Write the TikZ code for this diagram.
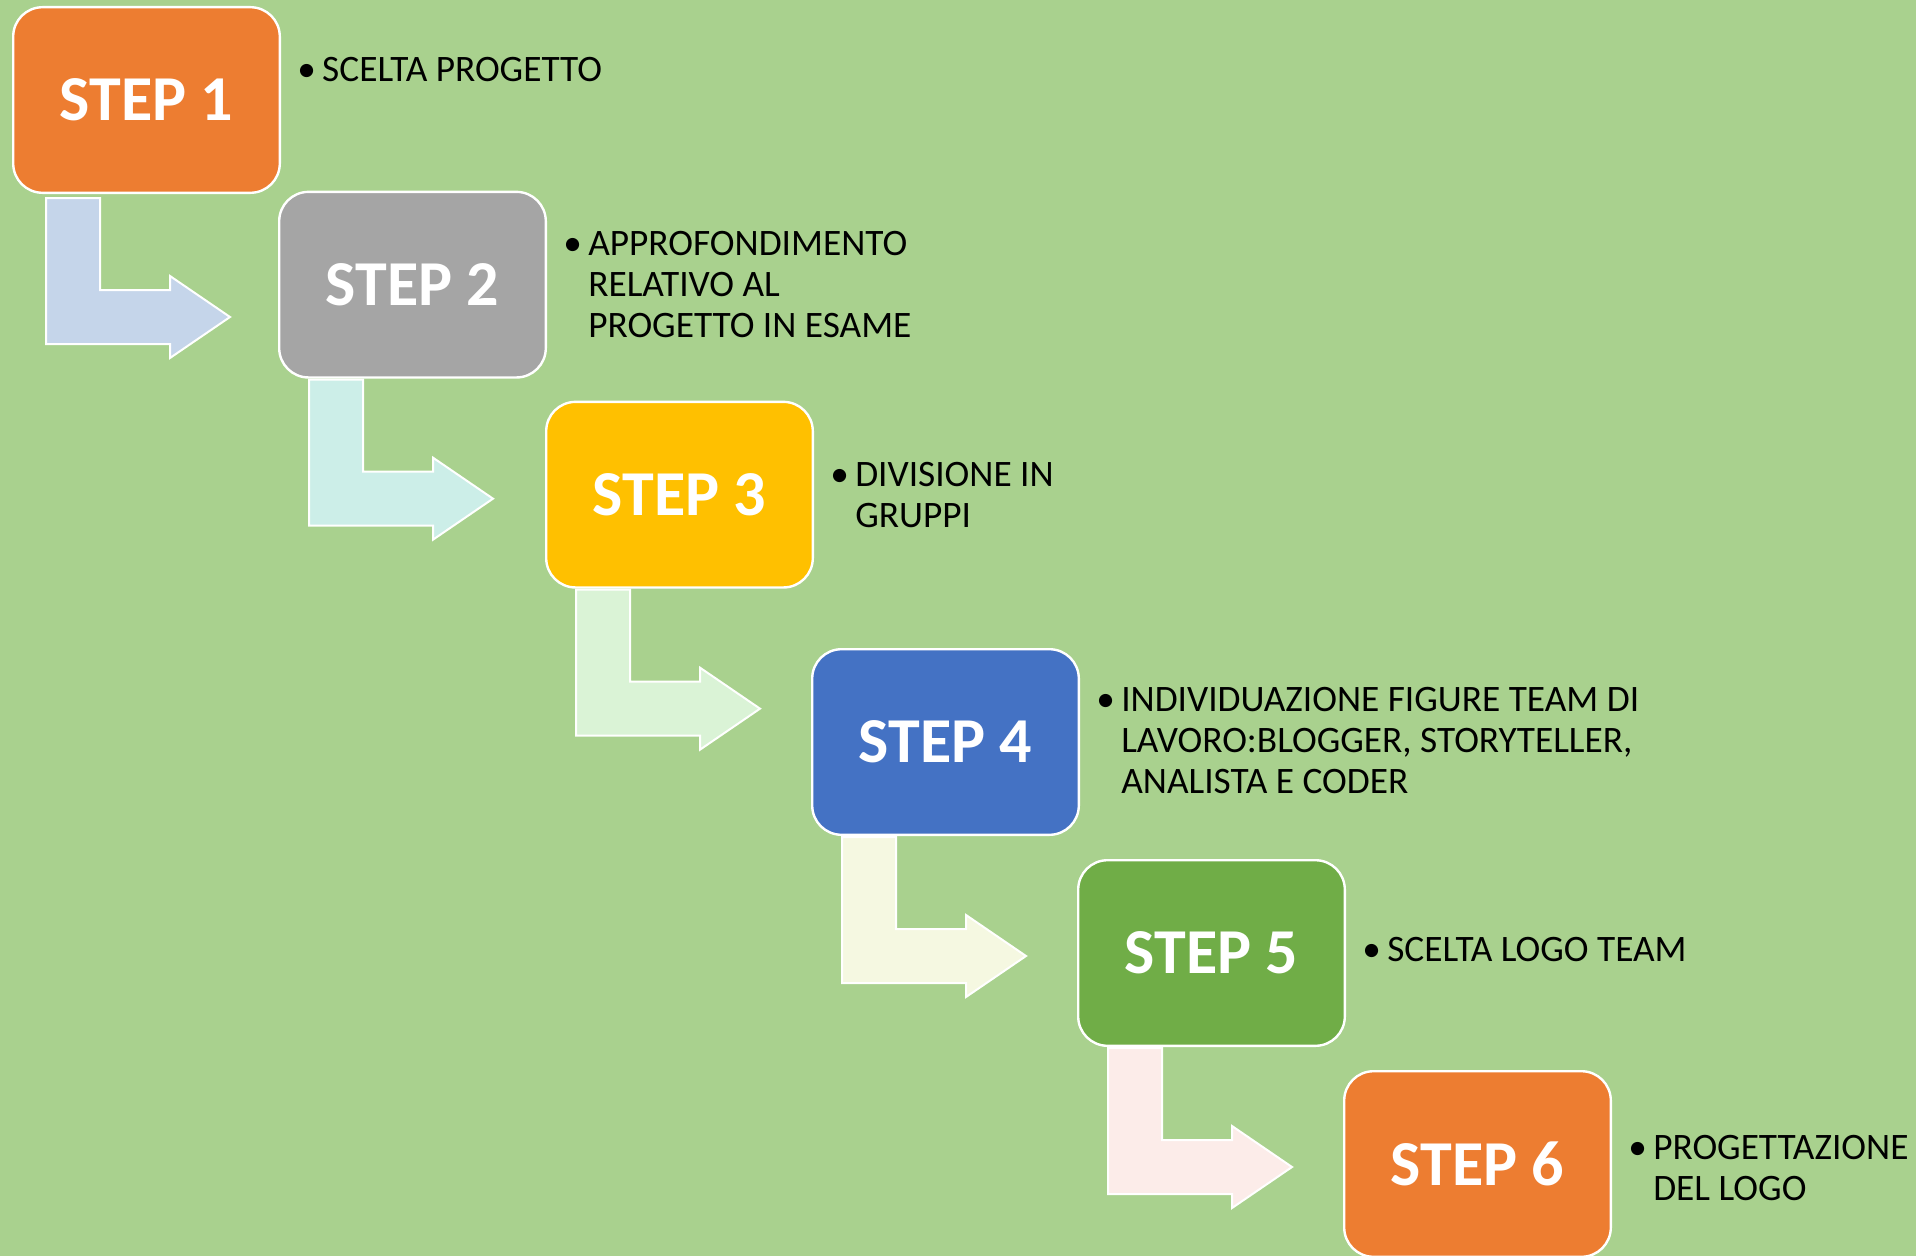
\documentclass[tikz,border=0pt]{standalone}
\usepackage{fontspec}
\setmainfont{Carlito}
\usetikzlibrary{positioning}

\definecolor{bggreen}{HTML}{A9D18E}
\definecolor{orangebox}{HTML}{ED7D31}
\definecolor{graybox}{HTML}{A5A5A5}
\definecolor{goldbox}{HTML}{FFC000}
\definecolor{bluebox}{HTML}{4472C4}
\definecolor{greenbox}{HTML}{70AD47}
\definecolor{arrblue}{HTML}{C5D5EA}
\definecolor{arrcyan}{HTML}{CCEEE8}
\definecolor{arrgreen}{HTML}{DAF3D6}
\definecolor{arryellow}{HTML}{F5F8E1}
\definecolor{arrpink}{HTML}{FCECE9}

\begin{document}
\begin{tikzpicture}[
  x=0.75pt, y=-0.75pt,
  stepbox/.style={draw=white, line width=1.8pt, rounded corners=22pt,
    minimum width=199.95pt, minimum height=139.2pt, text=white,
    font=\fontsize{48}{50}\selectfont\bfseries},
  desc/.style={inner sep=0pt, align=left, font=\fontsize{28}{30.75}\selectfont},
  barrow/.style={draw=white, line width=1.5pt, line join=miter},
]

% --- background ---
\path[fill=bggreen, use as bounding box] (0,0) rectangle (1916,1256);

% --- step boxes ---
\node[stepbox, fill=orangebox] (s1) at (146.5,100) {STEP 1};
\node[stepbox, fill=graybox, below right=-2.5pt and -2.25pt of s1] (s2) {STEP 2};
\node[stepbox, fill=goldbox, below right=16.5pt and -1.5pt of s2] (s3) {STEP 3};
\node[stepbox, fill=bluebox, below right=44.5pt and -2.25pt of s3] (s4) {STEP 4};
\node[stepbox, fill=greenbox, below right=17.25pt and -2.25pt of s4] (s5) {STEP 5};
\node[stepbox, fill=orangebox, below right=17.25pt and -2.25pt of s5] (s6) {STEP 6};

% --- bullet texts ---
\node[desc, right=12pt of s1.east, yshift=20pt] (t1)
  {\begin{tabular}{@{}l@{}l@{}}\makebox[18.75pt][l]{\textbullet} & SCELTA PROGETTO\end{tabular}};
\node[desc, right=12pt of s2.east, yshift=-2.5pt] (t2)
  {\begin{tabular}{@{}l@{}l@{}}\makebox[18.75pt][l]{\textbullet} & APPROFONDIMENTO\\
   & RELATIVO AL\\ & PROGETTO IN ESAME\end{tabular}};
\node[desc, right=12pt of s3.east, yshift=-3.3pt] (t3)
  {\begin{tabular}{@{}l@{}l@{}}\makebox[18.75pt][l]{\textbullet} & DIVISIONE IN\\
   & GRUPPI\end{tabular}};
\node[desc, right=12pt of s4.east, yshift=-1.8pt] (t4)
  {\begin{tabular}{@{}l@{}l@{}}\makebox[18.75pt][l]{\textbullet} & INDIVIDUAZIONE FIGURE TEAM DI\\
   & LAVORO:BLOGGER, STORYTELLER,\\ & ANALISTA E CODER\end{tabular}};
\node[desc, right=12pt of s5.east] (t5)
  {\begin{tabular}{@{}l@{}l@{}}\makebox[18.75pt][l]{\textbullet} & SCELTA LOGO TEAM\end{tabular}};
\node[desc, right=12pt of s6.east, yshift=-6pt] (t6)
  {\begin{tabular}{@{}l@{}l@{}}\makebox[18.75pt][l]{\textbullet} & PROGETTAZIONE\\
   & DEL LOGO\end{tabular}};

% --- bent arrows between steps ---
\filldraw[barrow, fill=arrblue, shift={(s1.south west)}] (34,4) -- ++(54,0) -- ++(0,92)
  -- ++(70,0) -- ++(0,-14) -- ++(60,41) -- ++(-60,41) -- ++(0,-14) -- ++(-124,0) -- cycle;
\filldraw[barrow, fill=arrcyan, shift={(s2.south west)}] (31,1) -- ++(54,0) -- ++(0,92)
  -- ++(70,0) -- ++(0,-14) -- ++(60,41) -- ++(-60,41) -- ++(0,-14) -- ++(-124,0) -- cycle;
\filldraw[barrow, fill=arrgreen, shift={(s3.south west)}] (31,1) -- ++(54,0) -- ++(0,92)
  -- ++(70,0) -- ++(0,-14) -- ++(60,41) -- ++(-60,41) -- ++(0,-14) -- ++(-124,0) -- cycle;
\filldraw[barrow, fill=arryellow, shift={(s4.south west)}] (31,1) -- ++(54,0) -- ++(0,92)
  -- ++(70,0) -- ++(0,-14) -- ++(60,41) -- ++(-60,41) -- ++(0,-14) -- ++(-124,0) -- cycle;
\filldraw[barrow, fill=arrpink, shift={(s5.south west)}] (31,1) -- ++(54,0) -- ++(0,92)
  -- ++(70,0) -- ++(0,-14) -- ++(60,41) -- ++(-60,41) -- ++(0,-14) -- ++(-124,0) -- cycle;

\end{tikzpicture}
\end{document}
